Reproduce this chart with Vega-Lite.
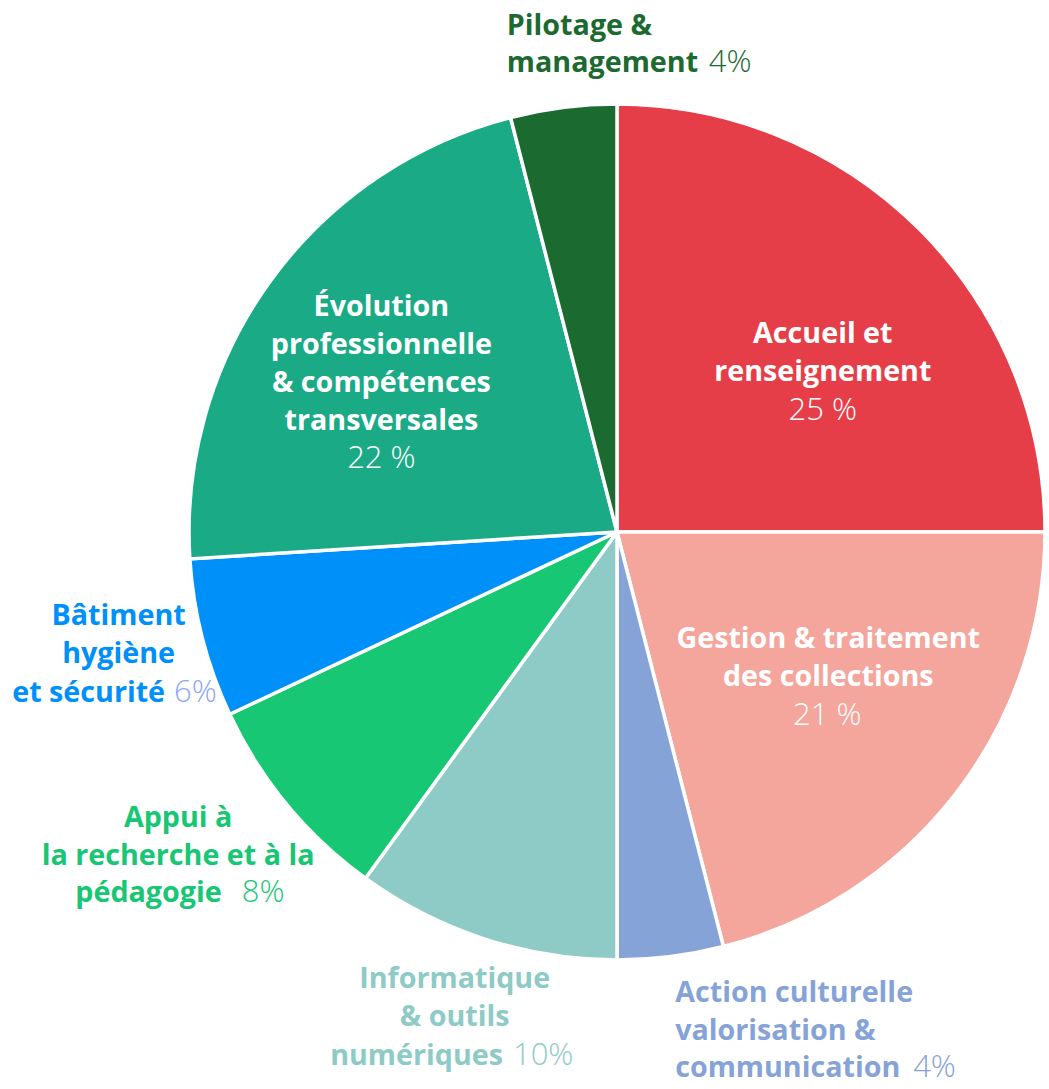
{
  "$schema": "https://vega.github.io/schema/vega-lite/v6.json",
  "width": 856,
  "height": 856,
  "autosize": {"type": "none"},
  "padding": {"left": 189, "top": 104, "right": 4, "bottom": 129},
  "background": "white",
  "view": {"stroke": null},
  "config": {"text": {"font": "Open Sans", "fontSize": 28.7, "lineHeight": 38, "lineBreak": "\n", "baseline": "alphabetic"}},
  "data": {"values": [
    {"cat": "acc", "i": 1, "pct": 25, "name": "Accueil et\nrenseignement", "last": "", "pl": "25 %"},
    {"cat": "ges", "i": 2, "pct": 21, "name": "Gestion & traitement\ndes collections", "last": "", "pl": "21 %"},
    {"cat": "act", "i": 3, "pct": 4, "name": "Action culturelle\n\u00a0\u00a0valorisation &\ncommunication", "last": "", "pl": "4%"},
    {"cat": "inf", "i": 4, "pct": 10, "name": "Informatique\n& outils", "last": "numériques", "pl": "10%"},
    {"cat": "app", "i": 5, "pct": 8, "name": "Appui à\nla recherche et à la", "last": "pédagogie", "pl": "8%"},
    {"cat": "bat", "i": 6, "pct": 6, "name": "Bâtiment\nhygiène", "last": "et sécurité", "pl": "6%"},
    {"cat": "evo", "i": 7, "pct": 22, "name": "Évolution\nprofessionnelle\n& compétences\ntransversales", "last": "", "pl": "22 %"},
    {"cat": "pil", "i": 8, "pct": 4, "name": "Pilotage &\nmanagement", "last": "", "pl": "4%"}
  ]},
  "encoding": {
    "theta": {"field": "pct", "type": "quantitative", "stack": true},
    "order": {"field": "i", "type": "quantitative"},
    "detail": {"field": "cat", "type": "nominal"}
  },
  "layer": [
    {"mark": {"type": "arc", "outerRadius": 428, "stroke": "white", "strokeWidth": 3.5},
     "encoding": {"color": {"field": "cat", "type": "nominal", "legend": null,
       "scale": {"domain": ["acc", "ges", "act", "inf", "app", "bat", "evo", "pil"],
                 "range": ["#E63E48", "#F4A59C", "#86A3D7", "#8ECBC6", "#17C773", "#0090FA", "#1BAA86", "#1B6B31"]}}}},

    {"mark": {"type": "text", "radius": 250, "align": "center", "dx": 29, "dy": -12, "fontWeight": "bold", "color": "white"},
     "encoding": {"text": {"field": "name"}, "opacity": {"condition": {"test": "datum.cat === 'acc'", "value": 1}, "value": 0}}},
    {"mark": {"type": "text", "radius": 250, "align": "center", "dx": 29, "dy": 65, "fontWeight": 300, "fontSize": 31, "color": "white"},
     "encoding": {"text": {"field": "pl"}, "opacity": {"condition": {"test": "datum.cat === 'acc'", "value": 1}, "value": 0}}},

    {"mark": {"type": "text", "radius": 280, "align": "center", "dx": -10, "dy": -56, "fontWeight": "bold", "color": "white"},
     "encoding": {"text": {"field": "name"}, "opacity": {"condition": {"test": "datum.cat === 'ges'", "value": 1}, "value": 0}}},
    {"mark": {"type": "text", "radius": 280, "align": "center", "dx": -11, "dy": 21, "fontWeight": 300, "fontSize": 31, "color": "white"},
     "encoding": {"text": {"field": "pl"}, "opacity": {"condition": {"test": "datum.cat === 'ges'", "value": 1}, "value": 0}}},

    {"mark": {"type": "text", "radius": 290, "align": "center", "dx": -1, "dy": -46, "fontWeight": "bold", "color": "white"},
     "encoding": {"text": {"field": "name"}, "opacity": {"condition": {"test": "datum.cat === 'evo'", "value": 1}, "value": 0}}},
    {"mark": {"type": "text", "radius": 290, "align": "center", "dx": -1, "dy": 106, "fontWeight": 300, "fontSize": 31, "color": "white"},
     "encoding": {"text": {"field": "pl"}, "opacity": {"condition": {"test": "datum.cat === 'evo'", "value": 1}, "value": 0}}},

    {"mark": {"type": "text", "radius": 480, "align": "left", "dx": -50, "dy": -21, "fontWeight": "bold", "color": "#1D6A31", "lineHeight": 37},
     "encoding": {"text": {"field": "name"}, "opacity": {"condition": {"test": "datum.cat === 'pil'", "value": 1}, "value": 0}}},
    {"mark": {"type": "text", "radius": 480, "align": "left", "dx": 152, "dy": 16, "fontWeight": 300, "fontSize": 31, "color": "#1D6A31"},
     "encoding": {"text": {"field": "pl"}, "opacity": {"condition": {"test": "datum.cat === 'pil'", "value": 1}, "value": 0}}},

    {"mark": {"type": "text", "radius": 480, "align": "center", "dx": -33.5, "dy": -26.4, "fontWeight": "bold", "color": "#0090FA"},
     "encoding": {"text": {"field": "name"}, "opacity": {"condition": {"test": "datum.cat === 'bat'", "value": 1}, "value": 0}}},
    {"mark": {"type": "text", "radius": 480, "align": "right", "dx": 13, "dy": 50.6, "fontWeight": "bold", "color": "#0090FA"},
     "encoding": {"text": {"field": "last"}, "opacity": {"condition": {"test": "datum.cat === 'bat'", "value": 1}, "value": 0}}},
    {"mark": {"type": "text", "radius": 480, "align": "left", "dx": 22, "dy": 50.6, "fontWeight": 300, "fontSize": 31, "color": "#8EA6F3"},
     "encoding": {"text": {"field": "pl"}, "opacity": {"condition": {"test": "datum.cat === 'bat'", "value": 1}, "value": 0}}},

    {"mark": {"type": "text", "radius": 480, "align": "center", "dx": -69, "dy": -11, "fontWeight": "bold", "color": "#17C773"},
     "encoding": {"text": {"field": "name"}, "opacity": {"condition": {"test": "datum.cat === 'app'", "value": 1}, "value": 0}}},
    {"mark": {"type": "text", "radius": 480, "align": "right", "dx": -25.4, "dy": 64, "fontWeight": "bold", "color": "#17C773"},
     "encoding": {"text": {"field": "last"}, "opacity": {"condition": {"test": "datum.cat === 'app'", "value": 1}, "value": 0}}},
    {"mark": {"type": "text", "radius": 480, "align": "left", "dx": -5.4, "dy": 64, "fontWeight": 300, "fontSize": 31, "color": "#17C773"},
     "encoding": {"text": {"field": "pl"}, "opacity": {"condition": {"test": "datum.cat === 'app'", "value": 1}, "value": 0}}},

    {"mark": {"type": "text", "radius": 480, "align": "center", "dx": -14, "dy": -0.5, "fontWeight": "bold", "color": "#8ECBC6"},
     "encoding": {"text": {"field": "name"}, "opacity": {"condition": {"test": "datum.cat === 'inf'", "value": 1}, "value": 0}}},
    {"mark": {"type": "text", "radius": 480, "align": "right", "dx": 34.3, "dy": 76.5, "fontWeight": "bold", "color": "#8ECBC6"},
     "encoding": {"text": {"field": "last"}, "opacity": {"condition": {"test": "datum.cat === 'inf'", "value": 1}, "value": 0}}},
    {"mark": {"type": "text", "radius": 480, "align": "left", "dx": 44.3, "dy": 76.5, "fontWeight": 300, "fontSize": 31, "color": "#8ECBC6"},
     "encoding": {"text": {"field": "pl"}, "opacity": {"condition": {"test": "datum.cat === 'inf'", "value": 1}, "value": 0}}},

    {"mark": {"type": "text", "radius": 480, "align": "left", "dx": -2, "dy": -6, "fontWeight": "bold", "color": "#86A3D7", "lineHeight": 37.5},
     "encoding": {"text": {"field": "name"}, "opacity": {"condition": {"test": "datum.cat === 'act'", "value": 1}, "value": 0}}},
    {"mark": {"type": "text", "radius": 480, "align": "left", "dx": 236, "dy": 69, "fontWeight": 300, "fontSize": 31, "color": "#86A3D7"},
     "encoding": {"text": {"field": "pl"}, "opacity": {"condition": {"test": "datum.cat === 'act'", "value": 1}, "value": 0}}}
  ]
}
